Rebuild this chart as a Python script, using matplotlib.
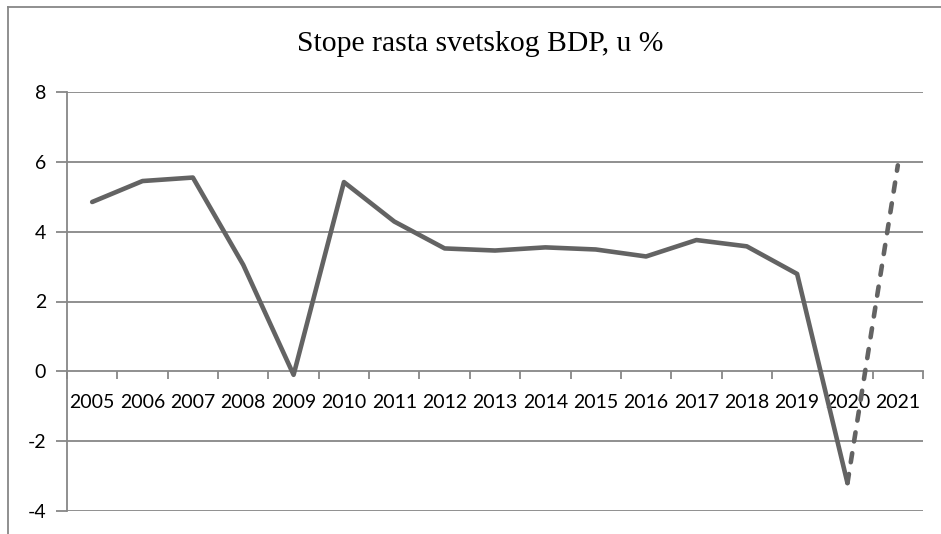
import numpy as np
import matplotlib
matplotlib.use('Agg')
import matplotlib.pyplot as plt
from matplotlib.lines import Line2D

# stope rasta svetskog BDP (u %), ocitano sa grafika
years = ['2005', '2006', '2007', '2008', '2009', '2010', '2011', '2012', '2013',
         '2014', '2015', '2016', '2017', '2018', '2019', '2020', '2021']
growth = [4.85, 5.45, 5.55, 3.05, -0.1, 5.42, 4.29, 3.52, 3.46,
          3.55, 3.49, 3.29, 3.76, 3.58, 2.79, -3.2, 5.9]
y_ticks = [-4, -2, 0, 2, 4, 6, 8]

line_col = '#636363'
grid_col = '#878787'

W, H = 941, 534
fig = plt.figure(figsize=(W / 100, H / 100), dpi=100)
ax = fig.add_axes([67 / W, (H - 511) / H, (923 - 67) / W, (511 - 92) / H])

x = np.arange(len(years))
n_solid = len(years) - 1  # poslednji segment (prognoza) isprekidan

ax.plot(x[:n_solid], growth[:n_solid], color=line_col, lw=3.3,
        solid_joinstyle='round', solid_capstyle='round', zorder=3)
ax.plot(x[n_solid - 1:], growth[n_solid - 1:], color=line_col, lw=3.3,
        dashes=(2.0, 2.6), dash_capstyle='round', zorder=3)

ax.set_xlim(-0.5, len(years) - 0.5)
ax.set_ylim(y_ticks[0], y_ticks[-1])
ax.set_yticks(y_ticks)
ax.set_yticklabels([str(v) for v in y_ticks])
for v in y_ticks:
    if v != 0:
        ax.axhline(v, color=grid_col, lw=1.3, zorder=1)

# x osa na nuli, podeoci izmedju kategorija
ax.spines['bottom'].set_position(('data', 0))
for s in ['top', 'right']:
    ax.spines[s].set_visible(False)
for s in ['left', 'bottom']:
    ax.spines[s].set_color(grid_col)
    ax.spines[s].set_linewidth(1.3)

ax.set_xticks(np.arange(-0.5, len(years), 1.0))
ax.set_xticklabels([])
ax.set_xticks(x, minor=True)
ax.set_xticklabels(years, minor=True)
ax.tick_params(axis='x', which='major', direction='out', length=6, width=1.3, color=grid_col)
ax.tick_params(axis='x', which='minor', length=0, pad=16, labelsize=14)
ax.tick_params(axis='y', direction='out', length=8, width=1.3, color=grid_col,
               pad=7, labelsize=14)
for lab in ax.get_xticklabels(minor=True) + ax.get_yticklabels():
    lab.set_fontfamily('Lato')

fig.text(480 / W, 1 - 44 / H, 'Stope rasta svetskog BDP, u %', ha='center', va='center',
         fontsize=21.3, family='Liberation Serif')

# okvir oko grafika (gore i levo)
fig.add_artist(Line2D([8 / W, 1], [1 - 7 / H, 1 - 7 / H], color=grid_col, lw=1.3))
fig.add_artist(Line2D([8 / W, 8 / W], [0, 1 - 7 / H], color=grid_col, lw=1.3))

fig.savefig('out.png', dpi=100)
